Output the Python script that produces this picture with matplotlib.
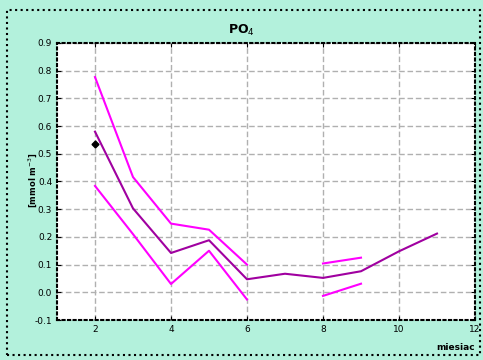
import numpy as np
import matplotlib
matplotlib.use("Agg")
import matplotlib.pyplot as plt
from matplotlib.patches import Rectangle

months = [2, 3, 4, 5, 6, 7, 8, 9, 10, 11]
mean_vals = [0.58, 0.303, 0.142, 0.188, 0.047, 0.067, 0.052, 0.076, 0.148, 0.212]
upper_vals = [0.777, 0.416, 0.248, 0.226, 0.10, np.nan, 0.104, 0.125, np.nan, np.nan]
lower_vals = [0.384, 0.21, 0.03, 0.15, -0.026, np.nan, -0.013, 0.031, np.nan, np.nan]
obs_x = [2]
obs_y = [0.537]

bg = '#b3f1dc'
fig = plt.figure(figsize=(4.83, 3.6), dpi=100, facecolor=bg)
ax = fig.add_axes([57/483, 1-320/360, (475-57)/483, (320-43)/360])
ax.set_facecolor('white')

ax.plot(months, upper_vals, color='#ff00ff', lw=1.5)
ax.plot(months, lower_vals, color='#ff00ff', lw=1.5)
ax.plot(months, mean_vals, color='#a000a0', lw=1.5)
ax.plot(obs_x, obs_y, marker='D', color='black', ms=3.5, ls='none')

ax.set_xlim(1, 12)
ax.set_ylim(-0.1, 0.9)
ax.set_xticks([2, 4, 6, 8, 10, 12])
ax.set_yticks(np.round(np.arange(-0.1, 0.91, 0.1), 1))
ax.set_yticklabels(['-0.1', '0.0', '0.1', '0.2', '0.3', '0.4', '0.5', '0.6', '0.7', '0.8', '0.9'])
ax.grid(True, color='#b0b0b0', ls=(0, (4, 2)), lw=1)
ax.tick_params(axis='both', labelsize=6.5, direction='in', length=3, top=True, right=True)
for s in ax.spines.values():
    s.set_linestyle(':')
    s.set_linewidth(1.5)

fig.text(0.5, 1-30/360, 'PO$_4$', ha='center', va='center', fontsize=9, fontweight='bold')
fig.text(33/483, 1-180/360, '[mmol m$^{-3}$]', rotation=90, ha='center', va='center', fontsize=6, fontweight='bold')
fig.text(475/483, 1-348/360, 'miesiac', ha='right', va='center', fontsize=6.5, fontweight='bold')

fig.patches.append(Rectangle((7/483, 1-355/360), (480-7)/483, (355-10)/360, transform=fig.transFigure,
                             fill=False, ls=':', lw=1.5, ec='black'))

fig.savefig('out.png', dpi=100, facecolor=bg)
